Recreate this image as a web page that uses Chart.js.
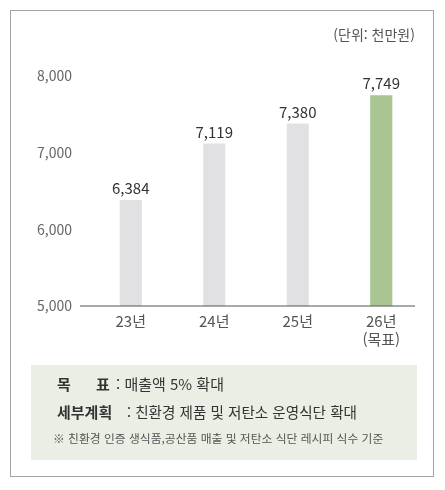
<!DOCTYPE html>
<html lang="ko">
<head>
<meta charset="utf-8">
<script src="https://cdn.jsdelivr.net/npm/chart.js@4"></script>
<style>
  html, body { margin: 0; padding: 0; background: #fff; }
  body { width: 445px; height: 490px; position: relative; overflow: hidden;
         font-family: "Noto Sans CJK KR", "Noto Sans", sans-serif; }
  #frame { position: absolute; left: 10px; top: 10px; width: 424px; height: 467px;
           border: 1.5px solid #a3a3a3; box-sizing: border-box; }
  #wrap { position: absolute; left: 0; top: 0; width: 445px; height: 490px; }
  #unit { position: absolute; right: 30px; top: 24px; font-size: 14px; color: #555; }
  #note { position: absolute; left: 31px; top: 365px; width: 386px; height: 95px; background: #ebeee5; }
  .ln { position: absolute; white-space: nowrap; color: #333; font-size: 15px; line-height: 18px; }
  .ln b { font-weight: 700; }
  .sm { font-size: 11.8px; color: #555; }
</style>
</head>
<body>
<div id="frame"></div>
<div id="note"></div>
<div id="wrap"><canvas id="myChart" width="445" height="490"></canvas></div>
<div id="unit">(단위: 천만원)</div>
<div class="ln" style="left:57px; top:375px;"><b>목</b></div>
<div class="ln" style="left:96px; top:375px;"><b>표</b></div>
<div class="ln" style="left:116px; top:375px;">: 매출액 5% 확대</div>
<div class="ln" style="left:57px; top:403px;"><b>세부계획</b></div>
<div class="ln" style="left:127px; top:403px; font-size:14.6px;">: 친환경 제품 및 저탄소 운영식단 확대</div>
<div class="ln sm" style="left:53px; top:429px;">※ 친환경 인증 생식품,공산품 매출 및 저탄소 식단 레시피 식수 기준</div>
<script>
var years = [['23년'], ['24년'], ['25년'], ['26년', '(목표)']];
var sales = [6384, 7119, 7380, 7749];
var barColors = ['#e1e1e3', '#e1e1e3', '#e1e1e3', '#a9c592'];
var yTicks = [5000, 6000, 7000, 8000];

var FONT = '"Noto Sans CJK KR", "Noto Sans", sans-serif';

// value labels above bars + baseline
var extras = {
    id: 'extras',
    afterDatasetsDraw: function (chart) {
        var ctx = chart.ctx;
        var y = chart.scales.y;
        var meta = chart.getDatasetMeta(0);
        ctx.save();
        ctx.font = '15px ' + FONT;
        ctx.fillStyle = '#333';
        ctx.textAlign = 'center';
        ctx.textBaseline = 'bottom';
        meta.data.forEach(function (bar, i) {
            ctx.fillText(sales[i].toLocaleString('en-US'), bar.x, bar.y - 4);
        });
        var base = y.getPixelForValue(5000);
        ctx.strokeStyle = '#555';
        ctx.lineWidth = 1.2;
        ctx.beginPath();
        ctx.moveTo(80, base);
        ctx.lineTo(415, base);
        ctx.stroke();
        ctx.restore();
    }
};

var ctx = document.getElementById('myChart').getContext('2d');
var myChart = new Chart(ctx, {
    type: 'bar',
    data: {
        labels: years,
        datasets: [{
            data: sales,
            backgroundColor: barColors,
            borderWidth: 0,
            barPercentage: 0.265,
            categoryPercentage: 1
        }]
    },
    options: {
        responsive: false,
        animation: false,
        events: [],
        layout: { padding: { left: 0, top: 76, right: 22, bottom: 134 } },
        plugins: { legend: { display: false }, tooltip: { enabled: false } },
        scales: {
            x: {
                grid: { display: false, drawTicks: false },
                border: { display: false },
                ticks: { color: '#555', font: { family: FONT, size: 15 }, padding: 6 },
                afterFit: function (s) { s.height = 50; }
            },
            y: {
                min: 5000,
                max: 8000,
                afterBuildTicks: function (s) { s.ticks = yTicks.map(function (v) { return { value: v }; }); },
                grid: { display: false, drawTicks: false },
                border: { display: false },
                ticks: {
                    color: '#666',
                    font: { family: FONT, size: 14 },
                    padding: 17,
                    callback: function (v) { return v.toLocaleString('en-US'); }
                },
                afterFit: function (s) { s.width = 89; }
            }
        }
    },
    plugins: [extras]
});
</script>
</body>
</html>
